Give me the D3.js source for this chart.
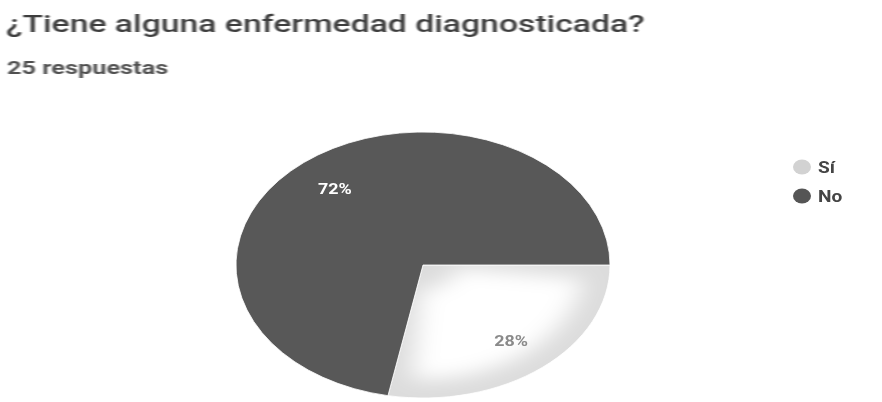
<!DOCTYPE html>
<html><head><meta charset="utf-8">
<script src="https://cdn.jsdelivr.net/npm/d3@7"></script>
<style>body{margin:0;background:#fff}svg{display:block}</style>
</head><body>
<script>
const title = "¿Tiene alguna enfermedad diagnosticada?";
const subtitle = "25 respuestas";
const categories = ["Sí", "No"];
const values = [28, 72];
const colors = ["#dcdcdc", "#585858"];
const legendColors = ["#d2d2d2", "#555555"];
const labelColors = ["#8a8a8a", "#ffffff"];

const W = 882, H = 402;
const sx = 187 / 133; // horizontal stretch of the whole picture
const svg = d3.select("body").append("svg").attr("width", W).attr("height", H);
const defs = svg.append("defs");
defs.append("filter").attr("id","blur").attr("x","-50%").attr("y","-50%").attr("width","200%").attr("height","200%")
  .append("feGaussianBlur").attr("stdDeviation", 9);
defs.append("filter").attr("id","soft").append("feGaussianBlur").attr("stdDeviation", 0.6);

svg.append("g").attr("transform", `translate(6,32) scale(${sx},1)`).attr("filter","url(#soft)")
  .append("text").text(title)
  .attr("font-family","Roboto").attr("font-size", 24).attr("font-weight", 500).attr("fill","#3c3c3c");
svg.append("g").attr("transform", `translate(7,74) scale(${sx},1)`).attr("filter","url(#soft)")
  .append("text").text(subtitle)
  .attr("font-family","Roboto").attr("font-size", 18).attr("font-weight", 700).attr("fill","#505050");

const cx = 423, cy = 265, R = 133;
const pie = d3.pie().sort(null).value(d => d.v).startAngle(Math.PI/2).endAngle(Math.PI/2 + 2*Math.PI);
const data = categories.map((c,i) => ({c, v: values[i], i}));
const arcs = pie(data);
const arc = d3.arc().innerRadius(0).outerRadius(R);
const labelArc = d3.arc().innerRadius(R*0.74).outerRadius(R*0.74);

const g = svg.append("g").attr("transform", `translate(${cx},${cy}) scale(${sx},1)`);
defs.append("clipPath").attr("id","siclip").append("path").attr("d", arc(arcs[0]));
g.selectAll("path.slice").data(arcs).join("path").attr("class","slice")
  .attr("d", arc).attr("fill", d => colors[d.data.i])
  .attr("stroke", "#fff").attr("stroke-width", 0.8).attr("vector-effect","non-scaling-stroke");
// soft white glow inside the light slice
const glowArc = d3.arc().innerRadius(R*0.18).outerRadius(R*0.86)
  .startAngle(arcs[0].startAngle + 0.12).endAngle(arcs[0].endAngle - 0.12);
g.append("g").attr("clip-path","url(#siclip)")
  .append("path").attr("d", glowArc()).attr("fill","#fff").attr("filter","url(#blur)");

arcs.forEach(d => {
  const [x, y] = labelArc.centroid(d);
  svg.append("g").attr("transform", `translate(${cx + x*sx},${cy + y}) scale(${sx*0.85},1)`)
    .attr("filter","url(#soft)")
    .append("text").attr("dy","0.35em")
    .attr("text-anchor","middle").text(Math.round(d.value) + "%")
    .attr("font-family","Roboto").attr("font-size", 15).attr("font-weight", 700)
    .attr("fill", labelColors[d.data.i]);
});

const leg = svg.append("g").attr("transform","translate(802,167)");
categories.forEach((c,i) => {
  const row = leg.append("g").attr("transform", `translate(0,${i*29})`).attr("filter","url(#soft)");
  row.append("ellipse").attr("rx", 9).attr("ry", 7.5).attr("fill", legendColors[i]);
  row.append("g").attr("transform", `translate(16,0) scale(${sx*0.85},1)`)
    .append("text").attr("dy","0.36em").text(c)
    .attr("font-family","Roboto").attr("font-size", 16).attr("font-weight", 700).attr("fill","#444");
});
</script>
</body></html>
